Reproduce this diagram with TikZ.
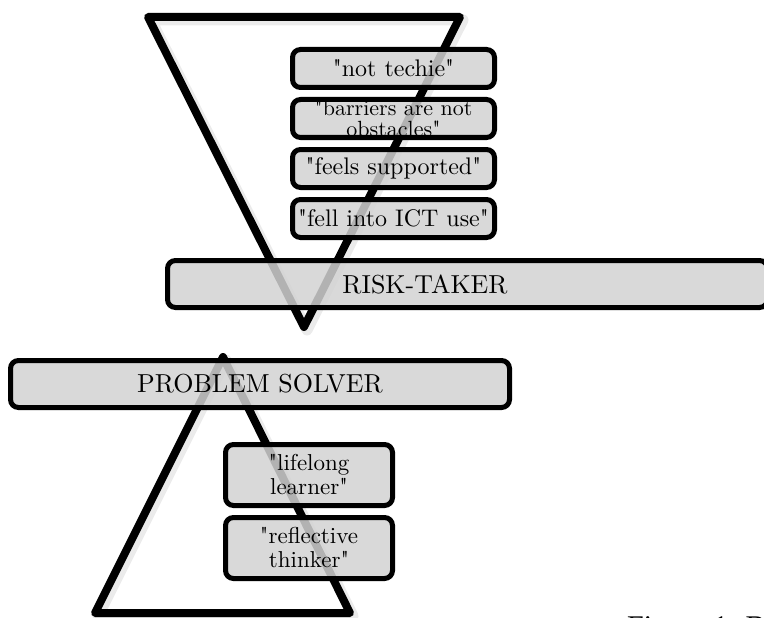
\documentclass[tikz,border=0pt]{standalone}
\usepackage{fontspec}
\newfontfamily\capfont{Liberation Serif}
\newfontfamily\sayfont{lmroman10-regular}[Extension=.otf]
\usetikzlibrary{positioning}
\definecolor{boxgray}{RGB}{210,210,210}

\begin{document}
\begin{tikzpicture}[
    x=1pt, y=-1pt,
    node distance=7pt,
    % node styles
    rolebar/.style = {
      draw=black,
      line width=5pt,
      fill=boxgray,
      fill opacity=0.85,
      text opacity=1,
      rounded corners=8pt,
      minimum height=47pt,
      inner xsep=0pt,
      font=\sayfont\fontsize{26}{30}\selectfont
    },
    saybox/.style = {
      draw=black,
      line width=5pt,
      fill=boxgray,
      fill opacity=0.85,
      text opacity=1,
      rounded corners=8pt,
      minimum width=202pt,
      minimum height=38pt,
      inner sep=0pt,
      align=center,
      font=\sayfont\fontsize{24}{20}\selectfont
    },
    % shape styles
    tri/.style = {line width=8pt, line join=round, draw=black},
    trishadow/.style = {line width=11pt, line join=round, draw=black, draw opacity=0.08}
  ]
  \useasboundingbox (0,0) rectangle (764,618);

  % --- Triangles (with a soft shadow)
  \draw[trishadow] (151,20) -- (463,20) -- (307,330) -- cycle;
  \draw[trishadow] (226,360) -- (353,616) -- (98,616) -- cycle;
  \draw[tri] (148,17) -- (460,17) -- (304,327) -- cycle;
  \draw[tri] (223,357) -- (350,613) -- (95,613) -- cycle;

  % --- Bars
  \node[rolebar, anchor=west, text width=600pt, align=left] (risk)
    at (165,284) {\hspace*{175pt}RISK-TAKER};
  \node[rolebar, minimum width=499pt] (solver) at (260,384) {PROBLEM SOLVER};

  % --- Quotes, top
  \node[saybox] (techie) at (393.5,68.5) {"not techie"};
  \node[saybox, below=of techie, font=\sayfont\fontsize{22}{21}\selectfont]
    (barriers) {"barriers are not\\obstacles"};
  \node[saybox, below=of barriers] (support) {"feels supported"};
  \node[saybox, below=of support] (fell) {"fell into ICT use"};

  % --- Quotes, bottom
  \node[saybox, minimum width=167pt, minimum height=61pt,
    font=\sayfont\fontsize{23}{24}\selectfont] (lifelong) at (309,475) {"lifelong\\learner"};
  \node[saybox, minimum width=167pt, minimum height=61pt,
    font=\sayfont\fontsize{23}{24}\selectfont, below=of lifelong] (reflective) {"reflective\\thinker"};

  % --- Caption
  \node[anchor=base west, inner sep=0pt, font=\capfont\fontsize{30}{32}\selectfont]
    (caption) at (627,636) {Figure 1. B};
\end{tikzpicture}
\end{document}
